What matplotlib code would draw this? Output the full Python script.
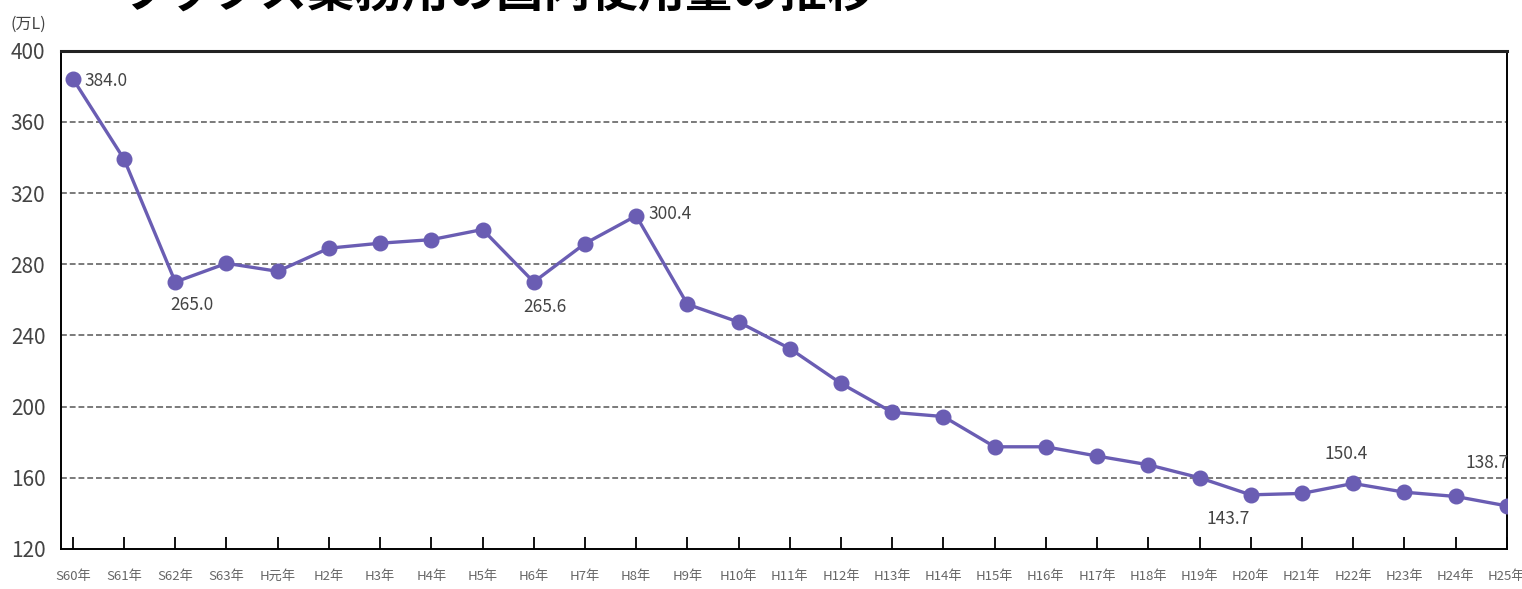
import matplotlib.pyplot as plt

plt.rcParams['font.family'] = ['Noto Sans CJK JP', 'DejaVu Sans']

# Data (plotted positions), plus the printed labels
years = ['S60年', 'S61年', 'S62年', 'S63年', 'H元年', 'H2年', 'H3年', 'H4年', 'H5年',
         'H6年', 'H7年', 'H8年', 'H9年', 'H10年', 'H11年', 'H12年', 'H13年', 'H14年',
         'H15年', 'H16年', 'H17年', 'H18年', 'H19年', 'H20年', 'H21年', 'H22年',
         'H23年', 'H24年', 'H25年']
usage = [384.2, 339.0, 270.0, 280.5, 276.0, 289.0, 291.8, 293.8, 299.5,
         270.0, 291.6, 307.2, 257.5, 247.5, 232.6, 213.0, 196.8, 194.4,
         177.4, 177.4, 172.2, 167.3, 160.0, 150.4, 151.2, 156.8, 151.9, 149.5, 144.2]
ticks_y = [120, 160, 200, 240, 280, 320, 360, 400]

# annotated points: index, printed text, offset in pixels, alignment
notes = [(0, '384.0', (12, -2), 'left', 'center'),
         (2, '265.0', (17, -14), 'center', 'top'),
         (9, '265.6', (11, -16), 'center', 'top'),
         (11, '300.4', (12, 2), 'left', 'center'),
         (23, '143.7', (-23, -15), 'center', 'top'),
         (25, '150.4', (-7, 20), 'center', 'bottom'),
         (28, '138.7', (-20, 34), 'center', 'bottom')]

line_color = '#6a5db3'
text_grey = '#444444'

fig = plt.figure(figsize=(15.22, 5.89), dpi=100)
ax = fig.add_axes([0.0398, 0.068, 0.9502, 0.846])

x = list(range(len(years)))
ax.plot(x, usage, color=line_color, linewidth=2.4, marker='o', markersize=10.5,
        zorder=3)

for i, txt, off, ha, va in notes:
    ax.annotate(txt, (x[i], usage[i]), xytext=off, textcoords='offset pixels',
                ha=ha, va=va, fontsize=12.5, color=text_grey)

ax.set_xlim(-0.24, len(years) - 1)
ax.set_ylim(120, 400)
ax.set_yticks(ticks_y)
ax.set_yticklabels([str(v) for v in ticks_y], fontsize=15, color=text_grey)
ax.set_xticks(x)
ax.set_xticklabels(years, fontsize=9.5, color='#666666')

ax.tick_params(axis='x', direction='in', length=9, width=1.3, pad=15)
ax.tick_params(axis='y', length=0, pad=11)

for v in ticks_y[1:-1]:
    ax.axhline(v, color='#7a7a7a', linewidth=1.4, linestyle=(0, (3, 1.5)),
               zorder=1)

for s in ['left', 'bottom', 'right']:
    ax.spines[s].set_linewidth(1.4)
    ax.spines[s].set_color('black')
ax.spines['top'].set_linewidth(2.2)
ax.spines['top'].set_color('#222222')

fig.text(0.007, 0.944, '(万L)', fontsize=11.5, color=text_grey, ha='left',
         va='bottom')
# title sits mostly above the top edge, as in the reference
fig.text(0.078, 0.972, 'ワックス業務用の国内使用量の推移', fontsize=34,
         fontweight='bold', color='black', ha='left', va='bottom')

fig.savefig('out.png', dpi=100)
